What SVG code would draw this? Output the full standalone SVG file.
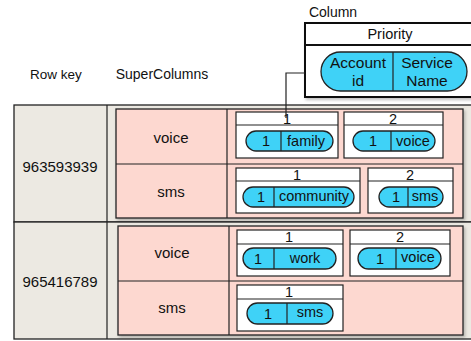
<svg xmlns="http://www.w3.org/2000/svg" width="471" height="341" viewBox="0 0 471 341">
<defs>
<filter id="sh" x="-10%" y="-10%" width="130%" height="140%"><feDropShadow dx="1.5" dy="2" stdDeviation="1.5" flood-color="#000" flood-opacity="0.25"/></filter>
</defs>
<style>
text{font-family:"Liberation Sans",Arial,sans-serif;fill:#111;text-anchor:middle}
.lbl{font-size:13.5px}
.big{font-size:15px}
.t{font-size:14.5px}
.row{fill:#ECE9E2;stroke:#222;stroke-width:1.3}
.pink{fill:#FDD8D0;stroke:#222;stroke-width:1.3}
.cell{fill:#fff;stroke:#222;stroke-width:1.2}
.pill{fill:#3FD2F7;stroke:#222;stroke-width:1.3}
.ln{stroke:#222;stroke-width:1.2;fill:none}
</style>
<rect width="471" height="341" fill="#fff"/>
<text class="lbl" x="56" y="79">Row key</text>
<text class="lbl" x="162" y="79" style="font-size:14px">SuperColumns</text>
<text class="lbl" x="333" y="17" style="font-size:14px">Column</text>

<g id="row1">
<rect class="row" x="14" y="105" width="470" height="117"/>
<line class="ln" x1="107" y1="105" x2="107" y2="222"/>
<text class="big" x="60" y="172">963593939</text>
</g>
<g id="row2">
<rect class="row" x="14" y="222" width="470" height="117"/>
<line class="ln" x1="107" y1="222" x2="107" y2="339"/>
<text class="big" x="60" y="287">965416789</text>
</g>

<g id="sc1">
<rect class="pink" x="116" y="109" width="347" height="109" filter="url(#sh)"/>
<line class="ln" x1="116" y1="164" x2="463" y2="164"/>
<line class="ln" x1="227" y1="109" x2="227" y2="218"/>
<text class="big" x="171" y="143">voice</text>
<text class="big" x="171" y="197">sms</text>
</g>
<g id="sc2">
<rect class="pink" x="118" y="226" width="345" height="109" filter="url(#sh)"/>
<line class="ln" x1="118" y1="281" x2="463" y2="281"/>
<line class="ln" x1="229" y1="226" x2="229" y2="335"/>
<text class="big" x="172" y="258">voice</text>
<text class="big" x="172" y="313">sms</text>
</g>

<!-- row1 voice -->
<g id="r1v1">
<rect class="cell" x="236" y="112" width="102" height="46"/>
<line class="ln" x1="236" y1="125" x2="338" y2="125"/>
<text class="t" x="287" y="124">1</text>
<rect class="pill" x="246" y="131" width="87" height="20" rx="10"/>
<line class="ln" x1="281" y1="131" x2="281" y2="151"/>
<text class="t" x="266" y="146">1</text>
<text class="t" x="306" y="146">family</text>
</g>
<g id="r1v2">
<rect class="cell" x="344" y="112" width="99" height="46"/>
<line class="ln" x1="344" y1="125" x2="443" y2="125"/>
<text class="t" x="393" y="124">2</text>
<rect class="pill" x="353" y="131" width="82" height="20" rx="10"/>
<line class="ln" x1="391" y1="131" x2="391" y2="151"/>
<text class="t" x="373" y="146">1</text>
<text class="t" x="413" y="146">voice</text>
</g>
<!-- row1 sms -->
<g id="r1s1">
<rect class="cell" x="236" y="168" width="124" height="45"/>
<line class="ln" x1="236" y1="181" x2="360" y2="181"/>
<text class="t" x="297" y="180">1</text>
<rect class="pill" x="243" y="187" width="111" height="20" rx="10"/>
<line class="ln" x1="274" y1="187" x2="274" y2="207"/>
<text class="t" x="261" y="202">1</text>
<text class="t" x="314" y="201">community</text>
</g>
<g id="r1s2">
<rect class="cell" x="368" y="168" width="85" height="45"/>
<line class="ln" x1="368" y1="181" x2="453" y2="181"/>
<text class="t" x="410" y="180">2</text>
<rect class="pill" x="379" y="187" width="64" height="20" rx="10"/>
<line class="ln" x1="408" y1="187" x2="408" y2="207"/>
<text class="t" x="396" y="202">1</text>
<text class="t" x="425" y="201">sms</text>
</g>
<!-- row2 voice -->
<g id="r2v1">
<rect class="cell" x="237" y="230" width="106" height="46"/>
<line class="ln" x1="237" y1="244" x2="343" y2="244"/>
<text class="t" x="289" y="242">1</text>
<rect class="pill" x="243" y="248" width="93" height="21" rx="10.5"/>
<line class="ln" x1="274" y1="248" x2="274" y2="269"/>
<text class="t" x="258" y="264">1</text>
<text class="t" x="305" y="263">work</text>
</g>
<g id="r2v2">
<rect class="cell" x="350" y="230" width="100" height="46"/>
<line class="ln" x1="350" y1="244" x2="450" y2="244"/>
<text class="t" x="400" y="242">2</text>
<rect class="pill" x="358" y="248" width="83" height="21" rx="10.5"/>
<line class="ln" x1="396" y1="248" x2="396" y2="269"/>
<text class="t" x="380" y="264">1</text>
<text class="t" x="418" y="262">voice</text>
</g>
<!-- row2 sms -->
<g id="r2s1">
<rect class="cell" x="237" y="285" width="106" height="46"/>
<line class="ln" x1="237" y1="299" x2="343" y2="299"/>
<text class="t" x="289" y="297">1</text>
<rect class="pill" x="247" y="303" width="86" height="21" rx="10.5"/>
<line class="ln" x1="287" y1="303" x2="287" y2="324"/>
<text class="t" x="268" y="319">1</text>
<text class="t" x="310" y="317">sms</text>
</g>

<g id="column">
<rect x="305" y="23" width="180" height="74" fill="#fff" stroke="#111" stroke-width="2" filter="url(#sh)"/>
<line x1="305" y1="45" x2="485" y2="45" stroke="#111" stroke-width="2"/>
<text class="t" x="390" y="39">Priority</text>
<rect class="pill" x="321" y="52" width="146" height="39" rx="19.5"/>
<line class="ln" x1="393" y1="52" x2="393" y2="91"/>
<text class="big" x="358" y="68" style="font-size:15.5px">Account</text>
<text class="big" x="358" y="86" style="font-size:15.5px">id</text>
<text class="big" x="427" y="68" style="font-size:15.5px">Service</text>
<text class="big" x="427" y="86" style="font-size:15.5px">Name</text>
</g>

<g id="connectors">
<polyline class="ln" points="305,73 286,73 286,118"/>
</g>
</svg>
